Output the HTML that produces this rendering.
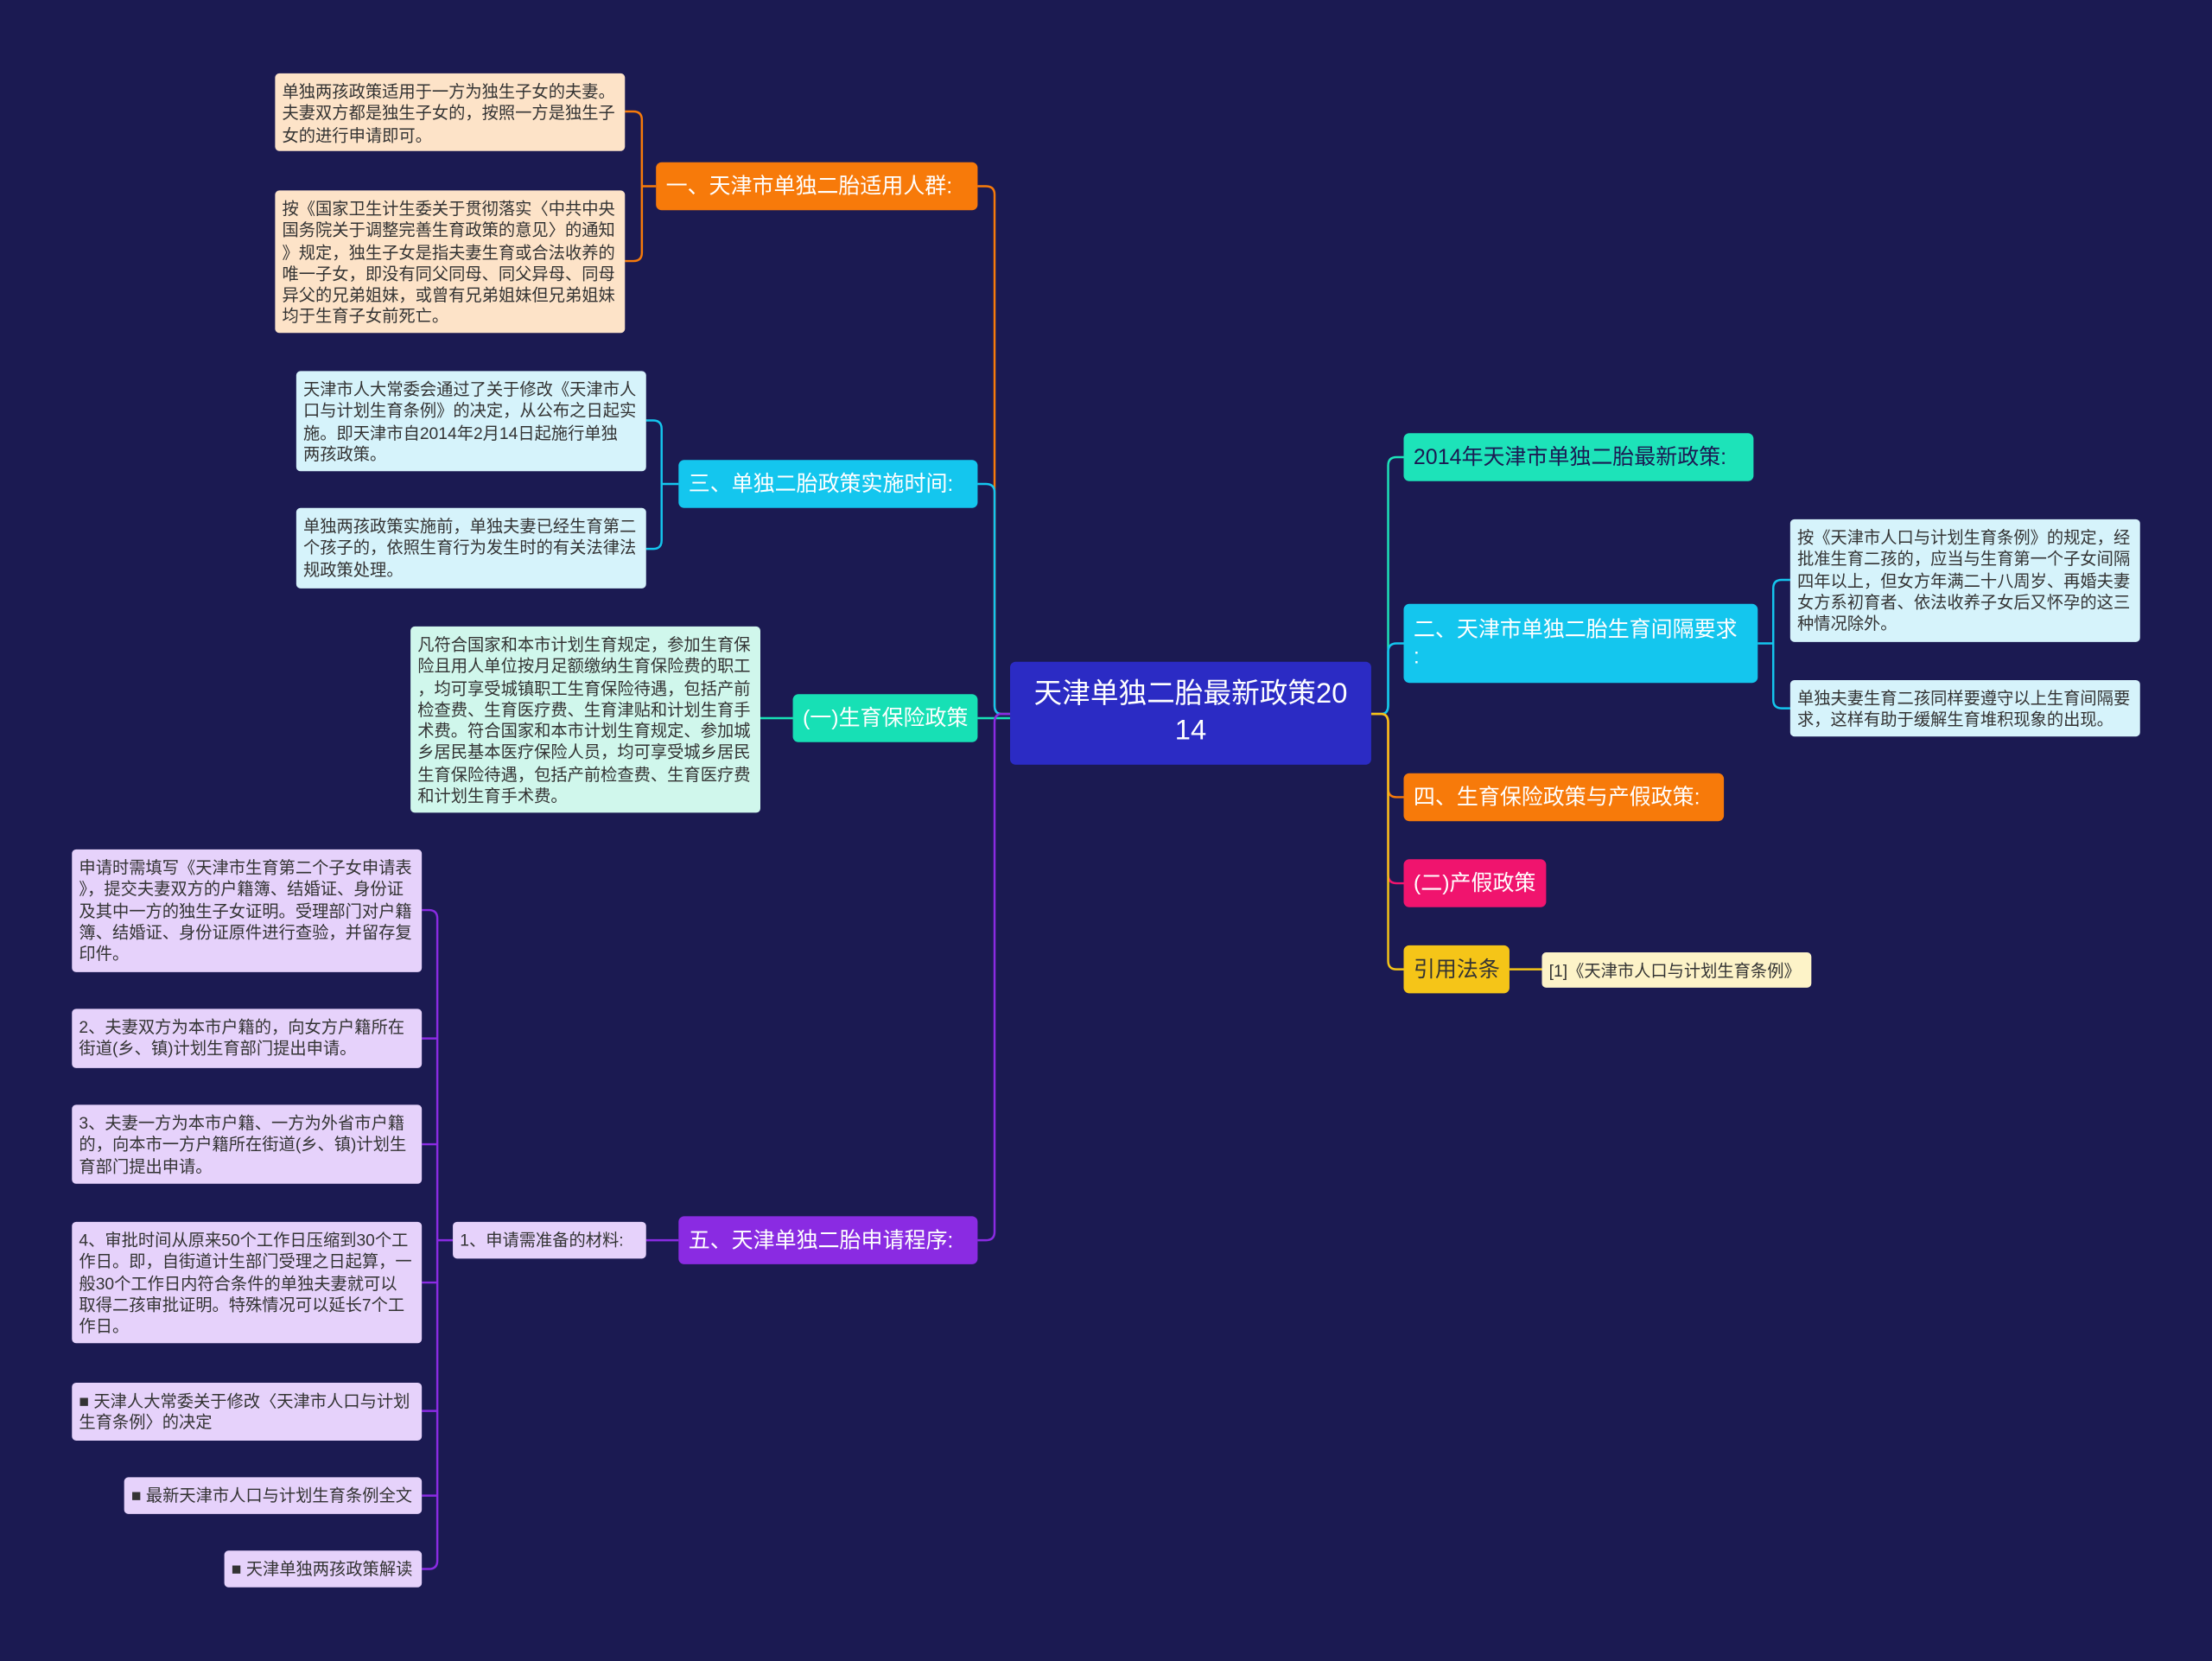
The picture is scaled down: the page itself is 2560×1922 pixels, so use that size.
<!DOCTYPE html>
<html><head><meta charset="utf-8">
<style>
html,body{margin:0;padding:0;background:#1b1a52;}
body{width:2560px;height:1922px;overflow:hidden;}
#w{position:absolute;left:0;top:0;width:1568px;height:1177px;transform:scale(1.632653);transform-origin:0 0;background:#1b1a52;font-family:"Liberation Sans","Noto Sans CJK SC",sans-serif;}
.n{position:absolute;box-sizing:border-box;border-radius:4px;color:#fff;font-size:15.3px;line-height:17px;padding:9px 7px 8px;white-space:nowrap;}
.l{position:absolute;box-sizing:border-box;border-radius:3px;color:#333;font-size:11.8px;line-height:15.3px;padding:6px 5px 5px;white-space:nowrap;}
svg{position:absolute;left:0;top:0;}
</style></head><body><div id="w">
<svg width="1568" height="1177" fill="none" stroke-width="1.5">
<path d="M716,506 H710 Q705,506 705,500 V138 Q705,132 699,132 H693" stroke="#f77a0a"/>
<path d="M716,506 H710 Q705,506 705,500 V349 Q705,343 699,343 H693" stroke="#14c6ee"/>
<path d="M716,509 H693" stroke="#17e0b5"/>
<path d="M716,506 H710 Q705,506 705,512 V873 Q705,879 699,879 H693" stroke="#8a2be2"/>
<path d="M972,506 H979 Q984,506 984,500 V330 Q984,324 990,324 H995" stroke="#1de3b9"/>
<path d="M972,506 H979 Q984,506 984,500 V462 Q984,456 990,456 H995" stroke="#14c6ee"/>
<path d="M972,506 H979 Q984,506 984,512 V559 Q984,565 990,565 H995" stroke="#f77a0a"/>
<path d="M972,506 H979 Q984,506 984,512 V620 Q984,626 990,626 H995" stroke="#f0146e"/>
<path d="M972,506 H979 Q984,506 984,512 V681 Q984,687 990,687 H995" stroke="#f5c518"/>
<path d="M465,132 H455 M443,79 H449 Q455,79 455,85 V179 Q455,185 449,185 H443" stroke="#f77a0a"/>
<path d="M481,343 H469 M458,298 H463 Q469,298 469,304 V383 Q469,389 463,389 H458" stroke="#14c6ee"/>
<path d="M562,509 H539" stroke="#17e0b5"/>
<path d="M481,879 H458" stroke="#8a2be2"/>
<path d="M321,879 H310 M299,645 H304 Q310,645 310,651 V1106 Q310,1112 304,1112 H299 M299,736 H310 M299,811 H310 M299,909 H310 M299,1000 H310 M299,1060 H310" stroke="#8a2be2"/>
<path d="M1246,456 H1257 M1269,411 H1263 Q1257,411 1257,417 V496 Q1257,502 1263,502 H1269" stroke="#14c6ee"/>
<path d="M1070,687 H1093" stroke="#f5c518"/>
</svg>

<div class="n" style="left:716px;top:469px;width:256px;height:73px;background:#2b2bc4;font-size:20px;line-height:26px;text-align:center;padding:10px 6px;white-space:normal;">天津单独二胎最新政策20<br>14</div>

<div class="n" style="left:465px;top:115px;width:228px;height:34px;background:#f77a0a;">一、天津市单独二胎适用人群:</div>
<div class="l" style="left:195px;top:52px;width:248px;height:55px;background:#fde3c8;">单独两孩政策适用于一方为独生子女的夫妻。<br>夫妻双方都是独生子女的，按照一方是独生子<br>女的进行申请即可。</div>
<div class="l" style="left:195px;top:135px;width:248px;height:101px;background:#fde3c8;">按《国家卫生计生委关于贯彻落实〈中共中央<br>国务院关于调整完善生育政策的意见〉的通知<br>》规定，独生子女是指夫妻生育或合法收养的<br>唯一子女，即没有同父同母、同父异母、同母<br>异父的兄弟姐妹，或曾有兄弟姐妹但兄弟姐妹<br>均于生育子女前死亡。</div>

<div class="n" style="left:481px;top:326px;width:212px;height:34px;background:#14c6ee;">三、单独二胎政策实施时间:</div>
<div class="l" style="left:210px;top:263px;width:248px;height:71px;background:#d6f3fb;">天津市人大常委会通过了关于修改《天津市人<br>口与计划生育条例》的决定，从公布之日起实<br>施。即天津市自2014年2月14日起施行单独<br>两孩政策。</div>
<div class="l" style="left:210px;top:360px;width:248px;height:57px;background:#d6f3fb;">单独两孩政策实施前，单独夫妻已经生育第二<br>个孩子的，依照生育行为发生时的有关法律法<br>规政策处理。</div>

<div class="n" style="left:562px;top:492px;width:131px;height:34px;background:#17e0b5;">(一)生育保险政策</div>
<div class="l" style="left:291px;top:444px;width:248px;height:132px;background:#d0f7ec;">凡符合国家和本市计划生育规定，参加生育保<br>险且用人单位按月足额缴纳生育保险费的职工<br>，均可享受城镇职工生育保险待遇，包括产前<br>检查费、生育医疗费、生育津贴和计划生育手<br>术费。符合国家和本市计划生育规定、参加城<br>乡居民基本医疗保险人员，均可享受城乡居民<br>生育保险待遇，包括产前检查费、生育医疗费<br>和计划生育手术费。</div>

<div class="n" style="left:481px;top:862px;width:212px;height:34px;background:#8a2be2;">五、天津单独二胎申请程序:</div>
<div class="l" style="left:321px;top:866px;width:137px;height:26px;background:#e6d2fb;">1、申请需准备的材料:</div>
<div class="l" style="left:51px;top:602px;width:248px;height:87px;background:#e6d2fb;">申请时需填写《天津市生育第二个子女申请表<br>》，提交夫妻双方的户籍簿、结婚证、身份证<br>及其中一方的独生子女证明。受理部门对户籍<br>簿、结婚证、身份证原件进行查验，并留存复<br>印件。</div>
<div class="l" style="left:51px;top:715px;width:248px;height:42px;background:#e6d2fb;">2、夫妻双方为本市户籍的，向女方户籍所在<br>街道(乡、镇)计划生育部门提出申请。</div>
<div class="l" style="left:51px;top:783px;width:248px;height:56px;background:#e6d2fb;">3、夫妻一方为本市户籍、一方为外省市户籍<br>的，向本市一方户籍所在街道(乡、镇)计划生<br>育部门提出申请。</div>
<div class="l" style="left:51px;top:866px;width:248px;height:86px;background:#e6d2fb;">4、审批时间从原来50个工作日压缩到30个工<br>作日。即，自街道计生部门受理之日起算，一<br>般30个工作日内符合条件的单独夫妻就可以<br>取得二孩审批证明。特殊情况可以延长7个工<br>作日。</div>
<div class="l" style="left:51px;top:980px;width:248px;height:41px;background:#e6d2fb;">■ 天津人大常委关于修改〈天津市人口与计划<br>生育条例〉的决定</div>
<div class="l" style="left:88px;top:1047px;width:211px;height:26px;background:#e6d2fb;">■ 最新天津市人口与计划生育条例全文</div>
<div class="l" style="left:159px;top:1099px;width:140px;height:26px;background:#e6d2fb;">■ 天津单独两孩政策解读</div>

<div class="n" style="left:995px;top:307px;width:248px;height:34px;background:#1de3b9;color:#1b1a52;">2014年天津市单独二胎最新政策:</div>
<div class="n" style="left:995px;top:428px;width:251px;height:56px;background:#14c6ee;white-space:normal;line-height:19px;">二、天津市单独二胎生育间隔要求<br>:</div>
<div class="l" style="left:1269px;top:368px;width:248px;height:87px;background:#d6f3fb;">按《天津市人口与计划生育条例》的规定，经<br>批准生育二孩的，应当与生育第一个子女间隔<br>四年以上，但女方年满二十八周岁、再婚夫妻<br>女方系初育者、依法收养子女后又怀孕的这三<br>种情况除外。</div>
<div class="l" style="left:1269px;top:482px;width:248px;height:40px;background:#d6f3fb;">单独夫妻生育二孩同样要遵守以上生育间隔要<br>求，这样有助于缓解生育堆积现象的出现。</div>
<div class="n" style="left:995px;top:548px;width:227px;height:34px;background:#f77a0a;">四、生育保险政策与产假政策:</div>
<div class="n" style="left:995px;top:609px;width:101px;height:34px;background:#f0146e;">(二)产假政策</div>
<div class="n" style="left:995px;top:670px;width:75px;height:34px;background:#f5c518;color:#333;">引用法条</div>
<div class="l" style="left:1093px;top:675px;width:191px;height:25px;background:#fdf3c8;">[1]《天津市人口与计划生育条例》</div>
</div></body></html>
